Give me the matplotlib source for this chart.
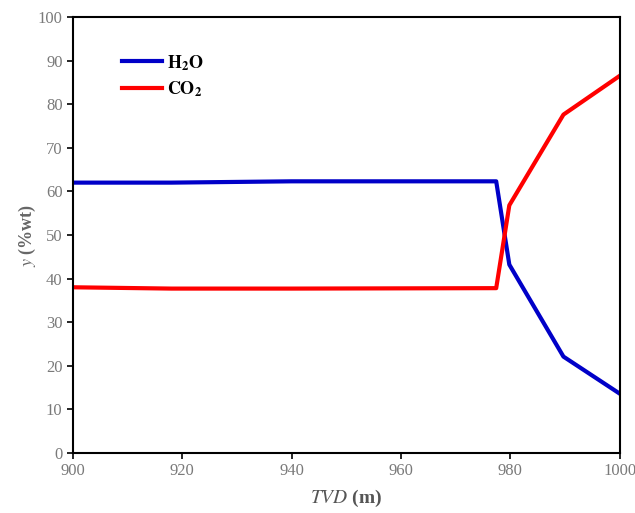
import matplotlib
matplotlib.use("Agg")
import matplotlib.pyplot as plt

plt.rcParams['font.family'] = ['Liberation Serif', 'DejaVu Serif']
plt.rcParams['mathtext.fontset'] = 'stix'

tvd = [900, 918, 940, 977.4, 979.8, 989.7, 1000]
h2o = [62.0, 62.0, 62.3, 62.3, 43.2, 22.1, 13.6]
co2 = [38.0, 37.7, 37.7, 37.8, 56.8, 77.6, 86.5]
labels = [r'$\mathbf{H_2O}$', r'$\mathbf{CO_2}$']

fig = plt.figure(figsize=(6.35, 5.13), dpi=100)
ax = fig.add_axes([0.115, 0.117, 0.861, 0.850])

ax.plot(tvd, h2o, color='#0000c8', lw=3, label=labels[0])
ax.plot(tvd, co2, color='#ff0000', lw=3, label=labels[1])

ax.set_xlim(900, 1000)
ax.set_ylim(0, 100)
ax.set_xticks(range(900, 1001, 20))
ax.set_yticks(range(0, 101, 10))
ax.tick_params(direction='out', length=4, width=1.2, colors='black',
               labelcolor='#7a7a7a', labelsize=12)
for s in ax.spines.values():
    s.set_linewidth(1.5)

ax.set_xlabel(r'$\it{TVD}$ (m)', fontsize=14, fontweight='bold', color='#555555', labelpad=6)
ax.set_ylabel(r'$\it{y}$ (%wt)', fontsize=13, fontweight='bold', color='#666666', labelpad=0)

ax.legend(loc='upper left', bbox_to_anchor=(0.06, 0.955), frameon=False,
          fontsize=13, handlelength=2.2, handletextpad=0.3, labelspacing=0.35)

fig.savefig('out.png', dpi=100)
